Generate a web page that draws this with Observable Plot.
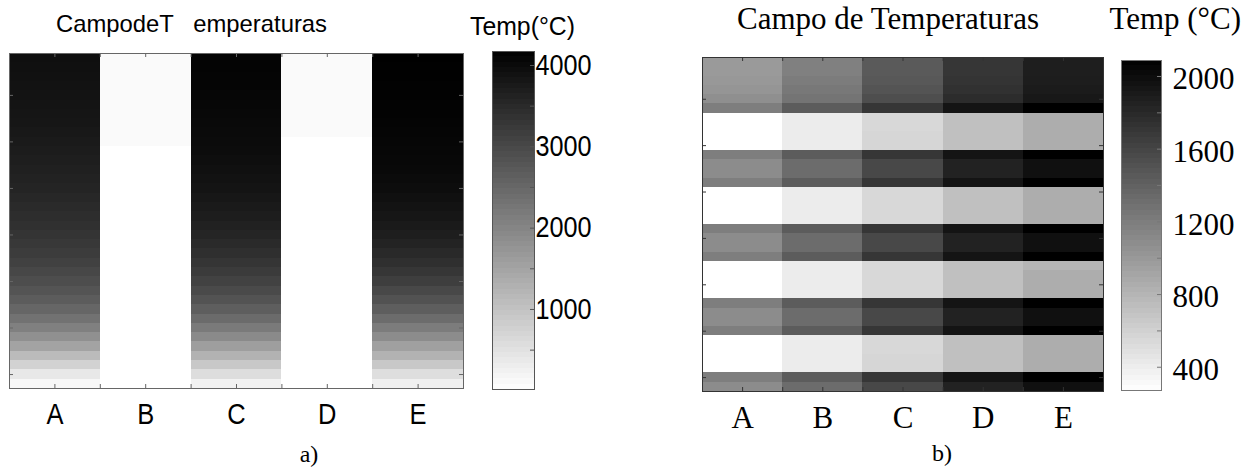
<!DOCTYPE html>
<html><head><meta charset="utf-8">
<script src="https://cdn.jsdelivr.net/npm/d3@7"></script>
<script src="https://cdn.jsdelivr.net/npm/@observablehq/plot@0.6"></script>
<style>
body{margin:0;background:#fff;}
#root{position:relative;width:1245px;height:468px;overflow:hidden;background:#fff;}
#root > svg{position:absolute;margin:0;max-width:none;}
</style></head><body><div id="root"></div>
<script>
// ---------- DATA ----------
const columns = ["A", "B", "C", "D", "E"];
const rowCount = 36; // rows listed top -> bottom

// Panel a) temperatures (°C), one array per column, top row first
const aColA = [3928,3911,3895,3879,3862,3846,3830,3813,3781,3748,3716,3683,3650,3618,3585,3536,3487,3439,3390,3324,3259,3194,3113,3015,2917,2803,2673,2510,2314,2086,1825,1515,1124,749,391,146];
const aColB = [97,97,97,97,97,97,97,97,97,97,16,16,16,16,16,16,16,16,16,16,16,16,16,16,16,16,16,16,16,16,16,16,16,16,16,16];
const aColC = [4107,4107,4091,4091,4074,4058,4042,4025,4009,3993,3976,3944,3911,3879,3846,3797,3748,3699,3634,3569,3487,3406,3308,3210,3096,2966,2819,2640,2428,2184,1923,1597,1271,912,570,228];
const aColD = [97,97,97,97,97,97,97,97,97,16,16,16,16,16,16,16,16,16,16,16,16,16,16,16,16,16,16,16,16,16,16,16,16,16,16,16];
const aColE = [4172,4156,4156,4139,4139,4123,4123,4107,4091,4074,4058,4042,4025,3993,3960,3911,3862,3813,3748,3683,3602,3504,3406,3292,3162,2999,2836,2640,2412,2151,1890,1564,1271,912,554,260];
const aDomain = [16, 4172];
const aBarTicks = [1000, 2000, 3000, 4000];
const aBarMinorTicks = [500, 1000, 1500, 2000, 2500, 3000, 3500, 4000];

// Panel b) temperatures (°C), one array per column, top row first
const bColA = [991,991,1006,1027,1070,1191,272,272,272,272,1191,1091,1091,1191,272,272,272,272,1191,1091,1091,1191,272,272,272,272,1191,1091,1091,1191,272,272,272,272,1191,1091];
const bColB = [1176,1176,1205,1233,1262,1433,407,407,407,407,1433,1319,1319,1433,407,407,407,407,1433,1319,1319,1433,407,407,407,407,1433,1319,1319,1433,407,407,407,407,1433,1319];
const bColC = [1447,1447,1461,1490,1533,1704,550,550,564,564,1704,1575,1575,1704,550,550,550,550,1704,1575,1575,1704,550,550,550,550,1704,1575,1575,1704,550,550,564,564,1704,1575];
const bColD = [1704,1704,1718,1739,1775,1946,721,721,721,721,1946,1846,1846,1946,721,721,721,721,1946,1846,1846,1946,721,721,721,721,1946,1846,1846,1946,721,721,721,721,1946,1846];
const bColE = [1874,1874,1882,1896,1917,2088,856,856,856,856,2088,1974,1974,2088,856,856,856,856,2088,1974,1974,2088,799,856,856,856,2088,1974,1974,2088,856,856,856,856,2088,1974];
const bDomain = [272, 2088];
const bBarTicks = [400, 800, 1200, 1600, 2000];
const bBarMinorTicks = [400, 600, 800, 1000, 1200, 1400, 1600, 1800, 2000];

// tick mark positions (rows counted from the bottom; columns in column units)
const yTickRows = [1.5, 6.5, 11.5, 16.5, 21.5, 26.5, 31.5];
const xTickCols = [0.5, 1, 1.5, 2, 2.5, 3, 3.5, 4, 4.5];
const colorLevels = 64;

// ---------- DRAWING ----------
const root = document.getElementById("root");
const SANS = "'Liberation Sans', Arial, sans-serif";
const SERIF = "'Liberation Serif', 'Times New Roman', serif";

function cellsOf(cols) {
  return cols.flatMap((vals, c) => vals.map((v, r) => ({c, r, v})));
}
function grayScale(domain) {
  return {type: "linear", domain, range: ["#ffffff", "#000000"], interpolate: d3.interpolateRgb};
}

function heatmap(o) {
  const plotW = o.width - o.ml - o.mr, plotH = o.height - o.mt - o.mb;
  return Plot.plot({
    width: o.width, height: o.height,
    marginLeft: o.ml, marginRight: o.mr, marginTop: o.mt, marginBottom: o.mb,
    x: {type: "linear", domain: [0, columns.length]},
    y: {type: "linear", domain: [0, rowCount], axis: null},
    color: grayScale(o.domain),
    style: {fontFamily: o.font, fontSize: o.fontSize + "px", background: "transparent", overflow: "visible", color: "#000"},
    marks: [
      Plot.rect(cellsOf(o.cols), {
        x1: d => d.c, x2: d => d.c + 1,
        y1: d => rowCount - d.r - 1, y2: d => rowCount - d.r,
        fill: d => d.v, shapeRendering: "crispEdges"
      }),
      Plot.axisX(columns.map((c, i) => i + 0.5), {
        anchor: "bottom", tickSize: 0, tickPadding: o.labelPad,
        tickFormat: d => columns[Math.floor(d)], fontSize: o.fontSize, fontFamily: o.font
      }),
      Plot.frame({stroke: o.stroke}),
      Plot.tickX(xTickCols, {x: d => d, insetTop: plotH - 4, stroke: o.stroke}),
      Plot.tickX(xTickCols, {x: d => d, insetBottom: plotH - 4, stroke: o.stroke}),
      Plot.tickY(yTickRows, {y: d => d, insetRight: plotW - 4, stroke: o.stroke}),
      Plot.tickY(yTickRows, {y: d => d, insetLeft: plotW - 4, stroke: o.stroke})
    ]
  });
}

function colorbar(o) {
  const barW = o.width - o.ml - o.mr;
  const [lo, hi] = o.domain;
  const step = (hi - lo) / colorLevels;
  const levels = d3.range(colorLevels).map(k => ({a: lo + k * step, b: lo + (k + 1) * step, m: lo + (k + 0.5) * step}));
  return Plot.plot({
    width: o.width, height: o.height,
    marginLeft: o.ml, marginRight: o.mr, marginTop: o.mt, marginBottom: o.mb,
    y: {type: "linear", domain: o.domain},
    color: grayScale(o.domain),
    style: {fontFamily: o.font, fontSize: o.fontSize + "px", background: "transparent", overflow: "visible", color: "#000"},
    marks: [
      Plot.barY(levels, {y1: d => d.a, y2: d => d.b, fill: d => d.m, shapeRendering: "crispEdges"}),
      Plot.frame({stroke: o.stroke}),
      Plot.tickY(o.minor, {y: d => d, insetLeft: barW - 4, stroke: o.stroke}),
      Plot.axisY(o.ticks, {
        anchor: "right", tickSize: 0, tickPadding: o.labelPad, dy: o.dy,
        tickFormat: d => String(d), fontSize: o.fontSize, fontFamily: o.font
      })
    ]
  });
}

function place(svg, left, top) {
  svg.style.left = left + "px";
  svg.style.top = top + "px";
  root.appendChild(svg);
  return svg;
}
function condense(svg, k) {
  svg.querySelectorAll("text").forEach(t => {
    const w = t.getComputedTextLength();
    if (w > 0) {
      t.setAttribute("textLength", (w * k).toFixed(1));
      t.setAttribute("lengthAdjust", "spacingAndGlyphs");
    }
  });
}

// Panel a
const pa = place(heatmap({
  cols: [aColA, aColB, aColC, aColD, aColE], domain: aDomain,
  width: 480, height: 440, ml: 9, mr: 17, mt: 53, mb: 52,
  font: SANS, fontSize: 30, labelPad: 14, stroke: "#666"
}), 0, 0);
condense(pa, 0.85);

const ca = place(colorbar({
  domain: aDomain, ticks: aBarTicks, minor: aBarMinorTicks,
  width: 140, height: 440, ml: 22, mr: 76, mt: 51, mb: 51,
  font: SANS, fontSize: 29, labelPad: 1, dy: 0, stroke: "#555"
}), 470, 0);
condense(ca, 0.87);

// Panel b
place(heatmap({
  cols: [bColA, bColB, bColC, bColD, bColE], domain: bDomain,
  width: 480, height: 440, ml: 62, mr: 17, mt: 57, mb: 49,
  font: SERIF, fontSize: 31, labelPad: 14, stroke: "#333"
}), 640, 0);

place(colorbar({
  domain: bDomain, ticks: bBarTicks, minor: bBarMinorTicks,
  width: 135, height: 440, ml: 11, mr: 84, mt: 60, mb: 50,
  font: SERIF, fontSize: 31, labelPad: 11, dy: 3, stroke: "#777"
}), 1110, 0);

// Titles & captions
const ov = d3.select(root).append("svg")
  .attr("width", 1245).attr("height", 468)
  .style("left", "0px").style("top", "0px").style("pointer-events", "none");

function label(txt, x, y, font, size, anchor, len) {
  const t = ov.append("text").attr("x", x).attr("y", y)
    .attr("font-family", font).attr("font-size", size)
    .attr("text-anchor", anchor).attr("fill", "#000")
    .style("white-space", "pre").text(txt);
  if (len) t.attr("textLength", len).attr("lengthAdjust", "spacingAndGlyphs");
  return t;
}
label("CampodeT   emperaturas", 56, 32, SANS, 24, "start", 271);
label("Temp(°C)", 470, 35, SANS, 26, "start", 105);
label("Campo de Temperaturas", 888, 29, SERIF, 31, "middle");
label("Temp (°C)", 1241, 29, SERIF, 31, "end");
label("a)", 309, 462, SERIF, 24, "middle");
label("b)", 942, 461, SERIF, 24, "middle");
</script>
</body></html>
